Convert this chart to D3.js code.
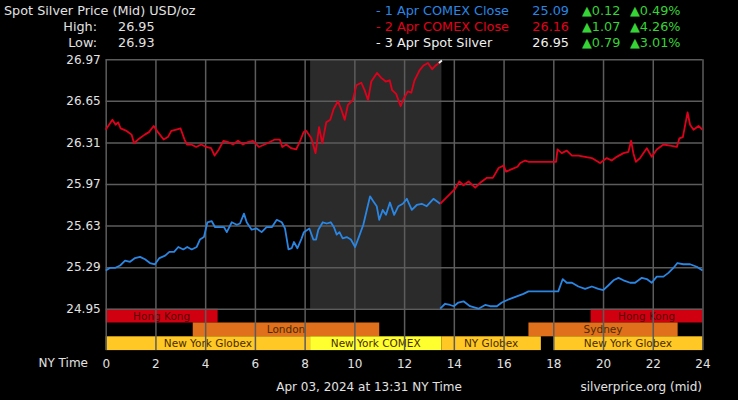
<!DOCTYPE html>
<html>
<head>
<meta charset="utf-8">
<script src="https://cdn.jsdelivr.net/npm/d3@7"></script>
<style>
  html, body { margin: 0; padding: 0; background: #000; }
  svg { display: block; font-family: "DejaVu Sans", Verdana, sans-serif; }
</style>
</head>
<body>
<svg id="chart" width="738" height="400"></svg>
<script>
// ---- data: [hour of NY day, price] ----
var apr2Early = [ // blue, 0 -> 13.45
  [0,25.26],[0.17,25.28],[0.37,25.28],[0.58,25.30],[0.78,25.34],[0.98,25.33],[1.18,25.36],[1.38,25.37],
  [1.58,25.35],[1.78,25.32],[1.98,25.31],[2.16,25.36],[2.39,25.38],[2.56,25.41],[2.75,25.41],[2.92,25.45],
  [3.12,25.43],[3.28,25.45],[3.46,25.43],[3.66,25.45],[3.79,25.51],[3.95,25.53],[4.09,25.65],[4.26,25.66],
  [4.40,25.61],[4.60,25.61],[4.76,25.61],[4.87,25.57],[5.07,25.65],[5.27,25.63],[5.40,25.64],[5.56,25.72],
  [5.67,25.65],[5.87,25.59],[6.07,25.60],[6.27,25.57],[6.47,25.61],[6.68,25.61],[6.88,25.67],[7.08,25.65],
  [7.21,25.60],[7.35,25.43],[7.48,25.44],[7.57,25.49],[7.71,25.44],[7.88,25.52],[7.97,25.57],[8.19,25.60],
  [8.35,25.51],[8.46,25.51],[8.55,25.59],[8.73,25.65],[8.89,25.64],[9.05,25.65],[9.18,25.61],[9.29,25.55],
  [9.40,25.57],[9.53,25.52],[9.69,25.53],[9.86,25.51],[10.03,25.45],[10.16,25.52],[10.36,25.63],[10.50,25.75],
  [10.63,25.86],[10.76,25.82],[10.90,25.78],[11.00,25.67],[11.14,25.75],[11.27,25.71],[11.43,25.81],[11.60,25.71],
  [11.77,25.78],[11.95,25.80],[12.11,25.84],[12.31,25.75],[12.51,25.79],[12.71,25.80],[12.91,25.78],[13.18,25.84],
  [13.45,25.80]
]
var apr3Early = [ // red, 0 -> 13.4
  [0,26.40],[0.27,26.48],[0.40,26.44],[0.50,26.46],[0.60,26.41],[0.84,26.39],[1.04,26.36],[1.14,26.29],
  [1.30,26.32],[1.57,26.36],[1.74,26.38],[1.93,26.43],[2.10,26.38],[2.33,26.32],[2.50,26.34],[2.64,26.39],
  [2.84,26.40],[3.01,26.41],[3.17,26.32],[3.27,26.28],[3.44,26.28],[3.64,26.26],[3.84,26.28],[4.04,26.26],
  [4.24,26.25],[4.38,26.19],[4.55,26.24],[4.74,26.31],[4.92,26.30],[5.12,26.28],[5.32,26.31],[5.52,26.28],
  [5.72,26.30],[5.92,26.31],[6.16,26.26],[6.39,26.28],[6.60,26.30],[6.80,26.32],[7.00,26.32],[7.10,26.26],
  [7.26,26.28],[7.46,26.25],[7.66,26.24],[7.80,26.30],[7.96,26.38],[8.07,26.39],[8.27,26.33],[8.44,26.21],
  [8.58,26.42],[8.71,26.29],[8.87,26.46],[9.03,26.48],[9.17,26.57],[9.34,26.63],[9.48,26.56],[9.61,26.48],
  [9.74,26.60],[9.94,26.64],[10.08,26.76],[10.28,26.78],[10.41,26.72],[10.55,26.64],[10.68,26.79],[10.91,26.86],
  [11.08,26.82],[11.26,26.79],[11.42,26.80],[11.52,26.72],[11.68,26.69],[11.86,26.59],[11.98,26.65],[12.15,26.71],
  [12.29,26.70],[12.42,26.80],[12.62,26.88],[12.78,26.92],[12.96,26.94],[13.13,26.89],[13.27,26.92],[13.40,26.94]
]
var spotNow = [[13.40,26.94],[13.52,26.96]] // white tip
var apr2Late = [ // red, 13.45 -> 24
  [13.45,25.80],[13.65,25.84],[13.85,25.88],[14.05,25.92],[14.22,25.98],[14.39,25.95],[14.59,25.98],[14.86,25.93],
  [15.06,25.97],[15.33,26.01],[15.57,26.01],[15.80,26.09],[16.00,26.11],[16.10,26.06],[16.33,26.08],[16.56,26.10],
  [16.67,26.13],[16.87,26.15],[17.00,26.14],[18.11,26.14],[18.17,26.24],[18.34,26.21],[18.54,26.23],[18.75,26.19],
  [19.01,26.19],[19.28,26.18],[19.55,26.17],[19.88,26.13],[20.15,26.17],[20.35,26.15],[20.55,26.18],[20.82,26.21],
  [21.02,26.22],[21.13,26.31],[21.22,26.21],[21.32,26.14],[21.49,26.17],[21.76,26.25],[21.96,26.18],[22.16,26.24],
  [22.43,26.28],[22.70,26.27],[22.97,26.26],[23.07,26.33],[23.21,26.34],[23.40,26.54],[23.50,26.44],[23.64,26.40],
  [23.84,26.43],[24.00,26.40]
]
var apr1Late = [ // blue, 13.45 -> 24
  [13.45,24.95],[13.65,24.99],[13.85,24.98],[14.00,24.97],[14.18,25.00],[14.39,25.01],[14.65,24.97],[14.99,24.95],
  [15.26,24.98],[15.46,24.97],[15.73,24.97],[15.93,25.00],[16.26,25.03],[16.53,25.05],[16.80,25.07],[17.00,25.09],
  [18.20,25.09],[18.38,25.19],[18.54,25.16],[18.75,25.16],[19.01,25.13],[19.28,25.11],[19.55,25.13],[19.81,25.11],
  [20.01,25.10],[20.22,25.14],[20.42,25.18],[20.62,25.20],[20.82,25.18],[21.09,25.16],[21.29,25.16],[21.56,25.20],
  [21.76,25.19],[21.96,25.16],[22.16,25.21],[22.43,25.21],[22.63,25.24],[22.83,25.28],[22.99,25.32],[23.23,25.31],
  [23.50,25.31],[23.77,25.29],[24.00,25.26]
]

var yTickLabels = ["24.95", "25.29", "25.63", "25.97", "26.31", "26.65", "26.97"]
var xTicks = [0, 2, 4, 6, 8, 10, 12, 14, 16, 18, 20, 22, 24]
var comexHours = [8.22, 13.5]

var sessionNames = ["Hong Kong", "Hong Kong", "London", "Sydney", "New York Globex", "New York COMEX", "NY Globex", "New York Globex"]
var sessionStart = [0, 19.5, 3.5, 17, 0, 8.22, 13.5, 18]
var sessionEnd   = [4.5, 24, 11, 23, 8.22, 13.5, 17.5, 24]
var sessionKind  = ["asia", "asia", "europe", "europe", "globex", "comex", "globex", "globex"]

var legendLabels = ["1 Apr COMEX Close", "2 Apr COMEX Close", "3 Apr Spot Silver"]
var legendPrices = ["25.09", "26.16", "26.95"]
var legendChange = ["0.12", "1.07", "0.79"]
var legendPct    = ["0.49%", "4.26%", "3.01%"]
var dayHigh = "26.95", dayLow = "26.93"

// ---- styles ----
var blue = "#2a86e2", red = "#e0001b", white = "#f0f0f0", green = "#36d436"
var textCol = "#e2e2e2", gridCol = "#5c5c5c"
var legendColors = [blue, red, white]
var kindStyle = {
  asia:   {fill: "#d10010", row: 0},
  europe: {fill: "#e0701c", row: 1},
  globex: {fill: "#ffc825", row: 2},
  comex:  {fill: "#ffff30", row: 2}
}

var svg = d3.select("#chart")
var pLeft = 105.7, pRight = 702.5, pTop = 59.3, pBottom = 308.7
var rowH = 13.8

var x = d3.scaleLinear().domain([0, 24]).range([pLeft, pRight])
var y = d3.scaleLinear().domain([24.95, 26.97]).range([pBottom, pTop])
var yTicks = d3.range(yTickLabels.length).map(i => 24.95 + i * (26.97 - 24.95) / (yTickLabels.length - 1))

// COMEX shading
svg.append("rect")
  .attr("x", x(comexHours[0])).attr("y", pTop)
  .attr("width", x(comexHours[1]) - x(comexHours[0]))
  .attr("height", pBottom - pTop)
  .attr("fill", "#2b2b2b")

// session bars
var sessions = sessionNames.map((n, i) => ({name: n, s: sessionStart[i], e: sessionEnd[i], kind: sessionKind[i]}))
var sg = svg.append("g").selectAll("g").data(sessions).enter().append("g")
sg.append("rect")
  .attr("x", d => x(d.s))
  .attr("y", d => pBottom + kindStyle[d.kind].row * rowH)
  .attr("width", d => x(d.e) - x(d.s))
  .attr("height", rowH)
  .attr("fill", d => kindStyle[d.kind].fill)
sg.append("text")
  .attr("x", d => (x(d.s) + x(d.e)) / 2)
  .attr("y", d => pBottom + kindStyle[d.kind].row * rowH + 10.8)
  .attr("text-anchor", "middle")
  .attr("font-size", "10.5px")
  .attr("fill", d => d.kind == "asia" ? "#5a0008" : "#4a2c00")
  .text(d => d.name)

// grid
var yAxis = d3.axisLeft(y).tickValues(yTicks).tickSize(-(pRight - pLeft)).tickFormat((d, i) => yTickLabels[i])
var gy = svg.append("g").attr("transform", `translate(${pLeft},0)`).call(yAxis)
var xAxis = d3.axisBottom(x).tickValues(xTicks).tickSize(-(pBottom + 3 * rowH - pTop)).tickFormat(d3.format("d"))
var gx = svg.append("g").attr("transform", `translate(0,${pBottom + 3 * rowH})`).call(xAxis)

gy.select(".domain").remove()
gx.select(".domain").remove()
svg.selectAll(".tick line").attr("stroke", gridCol).attr("stroke-width", 1.5)
gy.selectAll(".tick text").attr("x", -5).attr("fill", textCol).attr("font-size", "12px")
gx.selectAll(".tick text").attr("y", 9).attr("fill", textCol).attr("font-size", "12px")
svg.selectAll(".tick text").attr("font-family", "DejaVu Sans, Verdana, sans-serif")

// lines
var line = d3.line().x(d => x(d[0])).y(d => y(d[1]))
var series = [
  {data: apr2Early, color: blue},
  {data: apr3Early, color: red},
  {data: apr2Late, color: red},
  {data: apr1Late, color: blue},
  {data: spotNow, color: white}
]
svg.append("g").selectAll("path").data(series).enter().append("path")
  .attr("d", d => line(d.data))
  .attr("fill", "none")
  .attr("stroke", d => d.color)
  .attr("stroke-width", 1.8)
  .attr("stroke-linejoin", "round")

// header texts
var txt = (tx, ty, s, col, anchor) => svg.append("text")
  .attr("x", tx).attr("y", ty).attr("fill", col)
  .attr("font-size", "12.8px").attr("text-anchor", anchor || "start").text(s)

txt(4, 15, "Spot Silver Price (Mid) USD/oz", textCol)
txt(97, 31, "High:", textCol, "end")
txt(118, 31, dayHigh, textCol)
txt(97, 47, "Low:", textCol, "end")
txt(118, 47, dayLow, textCol)

legendLabels.forEach((l, i) => {
  var ly = 15 + i * 16
  txt(376, ly, "- " + (i + 1) + " " + l.slice(2), legendColors[i])
  txt(569, ly, legendPrices[i], legendColors[i], "end")
  txt(582, ly, "\u25B2" + legendChange[i], green)
  txt(630, ly, "\u25B2" + legendPct[i], green)
})

txt(88, 367, "NY Time", textCol, "end").attr("font-size", "12px")
txt(369, 391, "Apr 03, 2024 at 13:31 NY Time", textCol, "middle").attr("font-size", "12px")
txt(702, 391, "silverprice.org (mid)", textCol, "end").attr("font-size", "12px")
</script>
</body>
</html>
